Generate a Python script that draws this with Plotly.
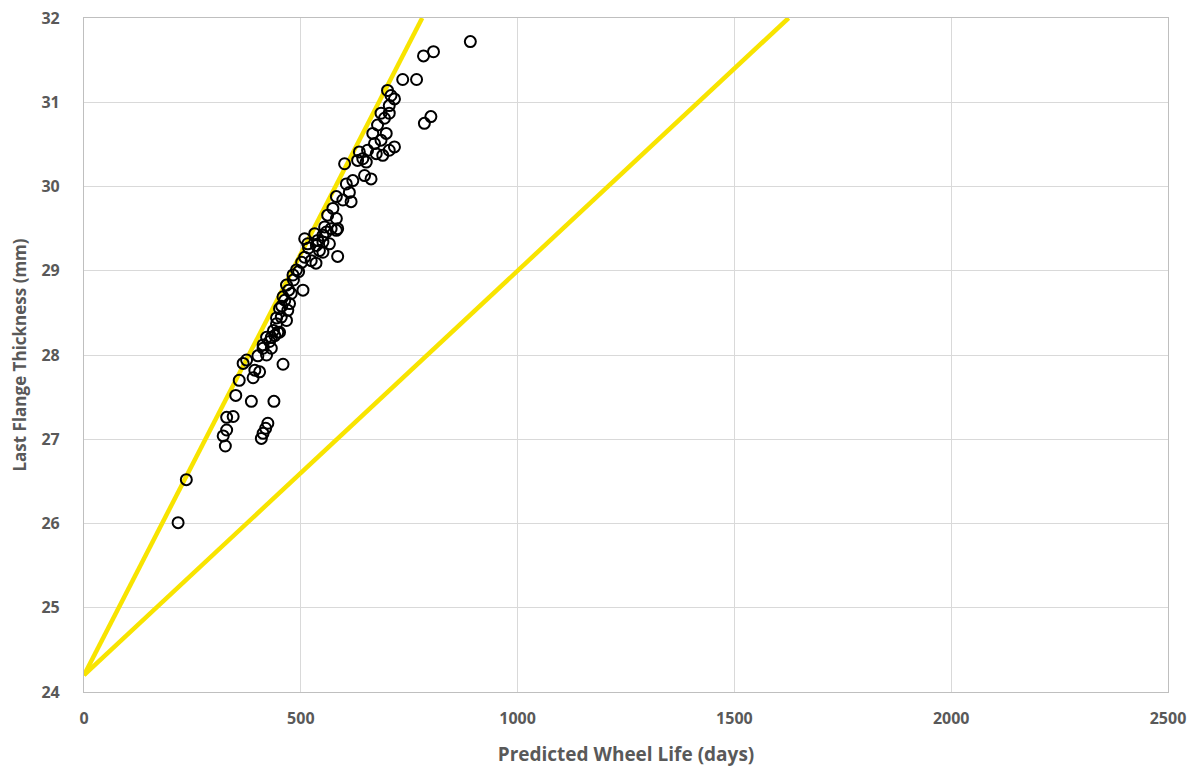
import plotly.graph_objects as go

# Scatter data: predicted wheel life (days) vs last flange thickness (mm)
life_days = [
    217, 236, 326, 321, 329, 329, 344, 409, 413, 419, 424, 386, 438, 350, 459,
    358, 390, 405, 394, 367, 375, 401, 421, 432, 413, 428, 421, 440, 451, 413,
    432, 447, 444, 455, 467, 451, 470, 474, 459, 478, 467, 505, 482, 490, 535,
    524, 509, 585, 543, 516, 566, 551, 532, 559, 582,
    437, 444, 456, 463, 472, 483, 495, 502,
    509, 536, 551, 551, 555, 570, 585, 562, 582, 574, 597, 582, 616, 612, 605,
    620, 647, 662, 631, 651, 635, 674, 689, 704, 601, 643, 654, 670, 666, 685,
    716, 697, 677, 693, 685, 704, 704, 708, 716, 700, 735, 767, 800, 785, 806,
    783, 891, 518, 539,
]
flange_mm = [
    26.01, 26.52, 26.92, 27.04, 27.11, 27.26, 27.27, 27.01, 27.07, 27.13, 27.19, 27.45, 27.45, 27.52, 27.89,
    27.70, 27.73, 27.80, 27.82, 27.90, 27.94, 27.99, 28.00, 28.08, 28.08, 28.16, 28.21, 28.23, 28.27, 28.12,
    28.21, 28.27, 28.37, 28.45, 28.41, 28.55, 28.53, 28.61, 28.69, 28.73, 28.83, 28.77, 28.95, 29.01, 29.09,
    29.12, 29.16, 29.17, 29.24, 29.32, 29.32, 29.34, 29.44, 29.46, 29.48,
    28.29, 28.44, 28.58, 28.65, 28.77, 28.89, 28.99, 29.10,
    29.38, 29.30, 29.22, 29.42, 29.52, 29.50, 29.50, 29.66, 29.62, 29.74, 29.84, 29.88, 29.82, 29.93, 30.03,
    30.07, 30.13, 30.09, 30.31, 30.29, 30.41, 30.39, 30.37, 30.43, 30.27, 30.33, 30.43, 30.51, 30.63, 30.55,
    30.47, 30.63, 30.73, 30.81, 30.87, 30.87, 30.96, 31.08, 31.04, 31.14, 31.27, 31.27, 30.83, 30.75, 31.60,
    31.55, 31.72, 29.27, 29.36,
]

# Two yellow reference lines (endpoints)
line1_x = [0, 780]
line1_y = [24.2, 32.0]
line2_x = [0, 1625]
line2_y = [24.2, 32.0]

x_ticks = [0, 500, 1000, 1500, 2000, 2500]
y_ticks = [24, 25, 26, 27, 28, 29, 30, 31, 32]

YELLOW = "#F8E400"
GREY_TXT = "#595959"
GRID = "#D9D9D9"
FONT = "Open Sans"

fig = go.Figure()
fig.add_trace(go.Scatter(x=line1_x, y=line1_y, mode="lines",
                         line=dict(color=YELLOW, width=4.5), showlegend=False,
                         hoverinfo="skip", cliponaxis=True))
fig.add_trace(go.Scatter(x=line2_x, y=line2_y, mode="lines",
                         line=dict(color=YELLOW, width=4.5), showlegend=False,
                         hoverinfo="skip", cliponaxis=True))
fig.add_trace(go.Scatter(x=life_days, y=flange_mm, mode="markers",
                         marker=dict(symbol="circle-open", size=11, color="black",
                                     line=dict(width=2, color="black")),
                         showlegend=False))

# page body has an 8px default margin, so figure is sized to fit the window
fig.update_layout(
    width=1189, height=759,
    margin=dict(l=76, r=29, t=10, b=75),
    paper_bgcolor="white", plot_bgcolor="white",
    font=dict(family=FONT, color=GREY_TXT, size=15),
    xaxis=dict(
        range=[0, 2500], tickvals=x_ticks, ticktext=["<b>%d</b>" % v for v in x_ticks],
        showgrid=True, gridcolor=GRID, gridwidth=1.2, automargin=False,
        zeroline=False, showline=True, linecolor="#BFBFBF", linewidth=1.2, mirror=True,
        ticks="", ticklabelstandoff=12, ticklabeloverflow="allow",
        tickfont=dict(family=FONT, size=16, color=GREY_TXT),
        title=dict(text="<b>Predicted Wheel Life (days)</b>", standoff=22,
                   font=dict(family=FONT, size=19, color=GREY_TXT)),
    ),
    yaxis=dict(
        range=[24, 32], tickvals=y_ticks, ticktext=["<b>%d</b>" % v for v in y_ticks],
        showgrid=True, gridcolor=GRID, gridwidth=1.2, automargin=False,
        zeroline=False, showline=True, linecolor="#BFBFBF", linewidth=1.2, mirror=True,
        ticks="", ticklabelstandoff=20, ticklabeloverflow="allow",
        tickfont=dict(family=FONT, size=16, color=GREY_TXT),
        title=dict(text="<b>Last Flange Thickness (mm)</b>", standoff=12,
                   font=dict(family=FONT, size=17, color=GREY_TXT)),
    ),
)

fig.write_html("out.html")
